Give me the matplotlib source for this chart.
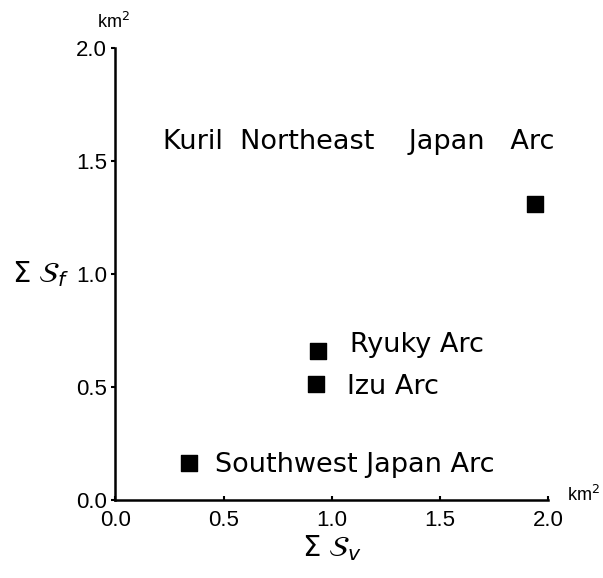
import matplotlib.pyplot as plt

plt.rcParams['font.family'] = ['Liberation Sans', 'DejaVu Sans']
plt.rcParams['mathtext.fontset'] = 'dejavusans'

# summed areas per arc (km^2)
arcs = ['Kuril  Northeast    Japan   Arc', 'Ryuky Arc', 'Izu Arc', 'Southwest Japan Arc']
sum_sv = [1.94, 0.935, 0.925, 0.34]
sum_sf = [1.31, 0.66, 0.513, 0.164]

# where each name goes (data coords)
label_xy = [(0.22, 1.584), (1.083, 0.686), (1.07, 0.50), (0.46, 0.155)]

fig = plt.figure(figsize=(6.03, 5.78), dpi=100)
ax = fig.add_axes([0.1915, 0.135, 0.7173, 0.782])

ax.scatter(sum_sv, sum_sf, marker='s', s=135, color='black', zorder=3)

for name, (tx, ty) in zip(arcs, label_xy):
    ax.text(tx, ty, name, fontsize=19.5, va='center', ha='left', family='DejaVu Sans')

ax.set_xlim(0, 2.0)
ax.set_ylim(0, 2.0)
ax.set_xticks([0, 0.5, 1.0, 1.5, 2.0])
ax.set_yticks([0, 0.5, 1.0, 1.5, 2.0])
ax.set_xticklabels(['0.0', '0.5', '1.0', '1.5', '2.0'])
ax.set_yticklabels(['0.0', '0.5', '1.0', '1.5', '2.0'])
ax.tick_params(axis='x', direction='in', length=3, width=1.5, labelsize=16, pad=7)
ax.tick_params(axis='y', direction='out', length=3, width=1.5, labelsize=16, pad=3)

for side in ['top', 'right']:
    ax.spines[side].set_visible(False)
for side in ['left', 'bottom']:
    ax.spines[side].set_linewidth(1.8)

ax.set_xlabel(r'$\Sigma\;\mathcal{S}_{v}$', fontsize=21, labelpad=2)
ax.set_ylabel(r'$\Sigma\;\mathcal{S}_{f}$', fontsize=21, rotation=0, labelpad=26, va='center')

# units
fig.text(113 / 603, 1 - 22 / 578, 'km$^2$', fontsize=13, ha='center', va='center')
fig.text(583 / 603, 1 - 495 / 578, 'km$^2$', fontsize=13, ha='center', va='center')

fig.savefig('out.png', dpi=100)
